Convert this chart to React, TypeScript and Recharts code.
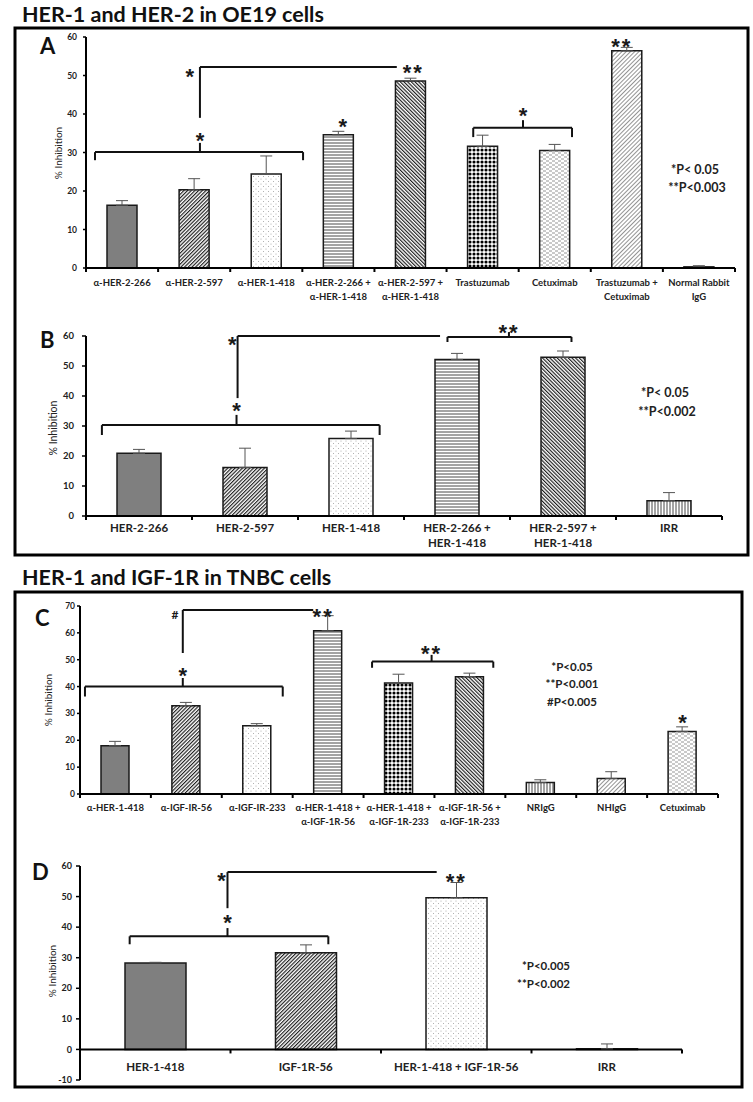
import React from 'react';
import { BarChart, Bar, XAxis, YAxis, Cell, ErrorBar, ReferenceLine, ReferenceDot } from 'recharts';

// ---------- Panel A : HER-1 and HER-2 in OE19 cells ----------
const catsA = ['α-HER-2-266', 'α-HER-2-597', 'α-HER-1-418', 'α-HER-2-266 +\nα-HER-1-418', 'α-HER-2-597 +\nα-HER-1-418', 'Trastuzumab', 'Cetuximab', 'Trastuzumab +\nCetuximab', 'Normal Rabbit\nIgG'];
const valsA = [16.3, 20.3, 24.4, 34.6, 48.6, 31.6, 30.5, 56.4, 0.3];
const errsA = [1.2, 2.9, 4.7, 0.9, 0.7, 2.9, 1.6, 0.9, 0.3];
const ticksA = [0, 10, 20, 30, 40, 50, 60];
const bracketsA = [
  { from: -0.375, to: 2.51, y: 30.1, end: 28.0, mid: 1.08, top: 32.5 },
  { from: 4.87, to: 6.24, y: 36.4, end: 34.0, mid: 5.56, top: 38.4 },
];
const linksA = [{ x: 1.08, y0: 39, y1: 52.2, x2: 3.81 }];
const starsA = [
  { x: 1.08, y: 34.5, t: '*' },
  { x: 0.94, y: 51.2, t: '*' },
  { x: 4.04, y: 52.2, t: '**' },
  { x: 3.06, y: 38.2, t: '*' },
  { x: 5.56, y: 41, t: '*' },
  { x: 6.93, y: 59, t: '**' },
];
const pTextA = ['*P< 0.05', '**P<0.003'];

// ---------- Panel B ----------
const catsB = ['HER-2-266', 'HER-2-597', 'HER-1-418', 'HER-2-266 +\nHER-1-418', 'HER-2-597 +\nHER-1-418', 'IRR'];
const valsB = [20.9, 16.2, 25.8, 52.2, 52.9, 5.1];
const errsB = [1.3, 6.4, 2.5, 2.0, 2.1, 2.7];
const ticksB = [0, 10, 20, 30, 40, 50, 60];
const bracketsB = [
  { from: -0.35, to: 2.27, y: 30.3, end: 27, mid: 0.92, top: 33.7 },
  { from: 2.91, to: 4.08, y: 59.7, end: 58, mid: 3.49, top: 61.3 },
];
const linksB = [{ x: 0.93, y0: 39.3, y1: 60, x2: 2.84 }];
const starsB = [
  { x: 0.92, y: 37, t: '*' },
  { x: 0.88, y: 59, t: '*' },
  { x: 3.49, y: 63, t: '**' },
];
const pTextB = ['*P< 0.05', '**P<0.002'];

// ---------- Panel C : HER-1 and IGF-1R in TNBC cells ----------
const catsC = ['α-HER-1-418', 'α-IGF-IR-56', 'α-IGF-IR-233', 'α-HER-1-418 +\nα-IGF-1R-56', 'α-HER-1-418 +\nα-IGF-1R-233', 'α-IGF-1R-56 +\nα-IGF-1R-233', 'NRIgG', 'NHIgG', 'Cetuximab'];
const valsC = [18.0, 32.9, 25.4, 60.8, 41.3, 43.7, 4.3, 5.8, 23.3];
const errsC = [1.6, 1.2, 0.8, 5.6, 3.3, 1.3, 1.0, 2.5, 1.7];
const ticksC = [0, 10, 20, 30, 40, 50, 60, 70];
const bracketsC = [
  { from: -0.43, to: 2.36, y: 40, end: 36.3, mid: 0.95, top: 43.2 },
  { from: 3.62, to: 5.33, y: 49.3, end: 47, mid: 4.46, top: 51.8 },
];
const linksC = [{ x: 0.95, y0: 52.5, y1: 68.5, x2: 2.79 }];
const starsC = [
  { x: 0.95, y: 46.2, t: '*' },
  { x: 2.93, y: 68.1, t: '**' },
  { x: 4.46, y: 54.4, t: '**' },
  { x: 8.0, y: 28.7, t: '*' },
  { x: 0.84, y: 66.7, t: '#' },
];
const pTextC = ['*P<0.05', '**P<0.001', '#P<0.005'];

// ---------- Panel D ----------
const catsD = ['HER-1-418', 'IGF-1R-56', 'HER-1-418 + IGF-1R-56', 'IRR'];
const valsD = [28.3, 31.6, 49.6, 0.2];
const errsD = [0.2, 2.6, 5.0, 1.6];
const ticksD = [-10, 0, 10, 20, 30, 40, 50, 60];
const bracketsD = [{ from: -0.17, to: 1.15, y: 37, end: 34.4, mid: 0.48, top: 39.7 }];
const linksD = [{ x: 0.48, y0: 46.2, y1: 58, x2: 1.87 }];
const starsD = [
  { x: 0.48, y: 43.3, t: '*' },
  { x: 0.44, y: 57, t: '*' },
  { x: 2.0, y: 56.7, t: '**' },
];
const pTextD = ['*P<0.005', '**P<0.002'];

// ---------- styles ----------
const FONT = 'Lato, "Open Sans", sans-serif';
const fillsA = ['solid', 'fwd', 'dots', 'horiz', 'back', 'check', 'dash', 'light', 'solid'];
const fillsB = ['solid', 'fwd', 'dots', 'horiz', 'back', 'vert'];
const fillsC = ['solid', 'fwd', 'dots', 'horiz', 'check', 'back', 'vert', 'light', 'dash'];
const fillsD = ['solid', 'fwd', 'dots', 'solid'];

type Bracket = { from: number; to: number; y: number; end: number; mid: number; top: number };
type Link = { x: number; y0: number; y1: number; x2: number };
type Star = { x: number; y: number; t: string };

type Cfg = {
  cats: string[]; vals: number[]; errs: number[]; fills: string[]; ticks: number[];
  brackets: Bracket[]; links: Link[]; stars: Star[];
  top: number; height: number; plotLeft: number; plotRight: number; plotTop: number; plotBottom: number;
  xh: number; yw: number; barSize: number; yFont: number; yTickSize: number; yTickMargin: number;
  catFont: number; catLineH: number; catDy: number; zeroAxis?: boolean;
};

function Patterns() {
  return (
    <svg width={0} height={0} style={{ position: 'absolute', left: 0, top: 0 }}>
      <defs>
        <pattern id="solid" width="4" height="4" patternUnits="userSpaceOnUse">
          <rect width="4" height="4" fill="#7f7f7f" />
        </pattern>
        <pattern id="fwd" width="2.6" height="2.6" patternUnits="userSpaceOnUse" patternTransform="rotate(45)">
          <rect width="2.6" height="2.6" fill="#fff" />
          <line x1="0.6" y1="0" x2="0.6" y2="2.6" stroke="#111" strokeWidth="1.1" />
        </pattern>
        <pattern id="back" width="2.6" height="2.6" patternUnits="userSpaceOnUse" patternTransform="rotate(-45)">
          <rect width="2.6" height="2.6" fill="#fff" />
          <line x1="0.6" y1="0" x2="0.6" y2="2.6" stroke="#111" strokeWidth="1.1" />
        </pattern>
        <pattern id="light" width="3" height="3" patternUnits="userSpaceOnUse" patternTransform="rotate(45)">
          <rect width="3" height="3" fill="#fff" />
          <line x1="0.5" y1="0" x2="0.5" y2="3" stroke="#888" strokeWidth="0.9" />
        </pattern>
        <pattern id="horiz" width="4" height="3" patternUnits="userSpaceOnUse">
          <rect width="4" height="3" fill="#fff" />
          <line x1="0" y1="1" x2="4" y2="1" stroke="#333" strokeWidth="0.9" />
        </pattern>
        <pattern id="vert" width="3" height="4" patternUnits="userSpaceOnUse">
          <rect width="3" height="4" fill="#fff" />
          <line x1="1" y1="0" x2="1" y2="4" stroke="#333" strokeWidth="0.9" />
        </pattern>
        <pattern id="dots" width="5" height="5" patternUnits="userSpaceOnUse">
          <rect width="5" height="5" fill="#fff" />
          <circle cx="1" cy="1" r="0.5" fill="#999" />
          <circle cx="3.5" cy="3.5" r="0.5" fill="#999" />
        </pattern>
        <pattern id="check" width="4" height="4" patternUnits="userSpaceOnUse">
          <rect width="4" height="4" fill="#fff" />
          <circle cx="2" cy="2" r="1.55" fill="#000" />
        </pattern>
        <pattern id="dash" width="6" height="4" patternUnits="userSpaceOnUse">
          <rect width="6" height="4" fill="#fff" />
          <line x1="0" y1="1" x2="3" y2="1" stroke="#777" strokeWidth="0.8" />
          <line x1="3" y1="3" x2="6" y2="3" stroke="#777" strokeWidth="0.8" />
        </pattern>
      </defs>
    </svg>
  );
}

function Panel({ cfg }: { cfg: Cfg }) {
  const { cats, vals, errs, fills, ticks, brackets, links, stars, top, height, plotLeft, plotRight, plotTop, plotBottom, xh, yw } = cfg;
  const width = 753;
  const n = cats.length;
  const data = cats.map((name, i) => ({ name, idx: i, value: vals[i], err: [0, errs[i]] }));
  const margin = { top: plotTop - top, left: plotLeft - yw, right: width - plotRight, bottom: top + height - plotBottom - xh };
  const band = (plotRight - plotLeft) / n;
  const yMin = ticks[0];
  const yMax = ticks[ticks.length - 1];
  const lift = cfg.zeroAxis ? ((0 - yMin) / (yMax - yMin)) * (plotBottom - plotTop) : 0;

  const renderTick = (p: any) => {
    const { x, y, payload, index } = p;
    const half = band / 2;
    const ay = y - lift;
    const lines = String(payload.value).split('\n');
    return (
      <g>
        <line x1={x - half} x2={x - half} y1={ay} y2={ay + 4} stroke="#000" strokeWidth={2} />
        {index === n - 1 && <line x1={x + half} x2={x + half} y1={ay} y2={ay + 4} stroke="#000" strokeWidth={2} />}
        <text x={x} y={ay + cfg.catDy} textAnchor="middle" fontSize={cfg.catFont} fontWeight={700} fill="#222" fontFamily={FONT}>
          {lines.map((l, i) => (
            <tspan key={i} x={x} dy={i === 0 ? 0 : cfg.catLineH}>{l}</tspan>
          ))}
        </text>
      </g>
    );
  };

  const seg = (key: string, x1: number, y1: number, x2: number, y2: number) => (
    <ReferenceLine key={key} xAxisId="n" segment={[{ x: x1, y: y1 }, { x: x2, y: y2 }]} stroke="#111" strokeWidth={2} ifOverflow="visible" />
  );

  const annot: React.ReactNode[] = [];
  brackets.forEach((b, i) => {
    annot.push(seg(`bh${i}`, b.from, b.y, b.to, b.y));
    annot.push(seg(`bl${i}`, b.from, b.y, b.from, b.end));
    annot.push(seg(`br${i}`, b.to, b.y, b.to, b.end));
    annot.push(seg(`bm${i}`, b.mid, b.y, b.mid, b.top));
  });
  links.forEach((l, i) => {
    annot.push(seg(`lv${i}`, l.x, l.y0, l.x, l.y1));
    annot.push(seg(`lh${i}`, l.x, l.y1, l.x2, l.y1));
  });
  stars.forEach((s, i) => {
    const isHash = s.t === '#';
    const fs = isHash ? 12 : 22;
    annot.push(
      <ReferenceDot
        key={`s${i}`}
        xAxisId="n"
        x={s.x}
        y={s.y}
        r={0}
        ifOverflow="visible"
        shape={(p: any) => (
          <text
            x={p.cx}
            y={p.cy + (isHash ? 4 : fs * 0.6)}
            textAnchor="middle"
            fontSize={fs}
            fontWeight={700}
            letterSpacing={s.t === '**' ? 2 : 0}
            fill="#1a1a1a"
            fontFamily={isHash ? FONT : '"Liberation Sans", Arial, sans-serif'}
          >
            {s.t}
          </text>
        )}
      />
    );
  });

  return (
    <div style={{ position: 'absolute', left: 0, top }}>
      <BarChart width={width} height={height} data={data} margin={margin} barSize={cfg.barSize}>
        <XAxis
          dataKey="name"
          interval={0}
          height={xh}
          tickSize={0}
          tickMargin={0}
          tickLine={false}
          axisLine={cfg.zeroAxis ? false : { stroke: '#000', strokeWidth: 2 }}
          tick={renderTick}
        />
        <XAxis xAxisId="n" type="number" dataKey="idx" domain={[-0.5, n - 0.5]} hide allowDataOverflow />
        <YAxis
          width={yw}
          domain={[yMin, yMax]}
          ticks={ticks}
          interval={0}
          allowDataOverflow
          tickSize={cfg.yTickSize}
          tickMargin={cfg.yTickMargin}
          tickLine={{ stroke: '#000', strokeWidth: 1.5 }}
          axisLine={{ stroke: '#000', strokeWidth: 2 }}
          tick={{ fontSize: cfg.yFont, fontWeight: 700, fill: '#222', fontFamily: FONT }}
        />
        {cfg.zeroAxis && <ReferenceLine y={0} stroke="#000" strokeWidth={2} />}
        <Bar dataKey="value" stroke="#1a1a1a" strokeWidth={1.5} isAnimationActive={false}>
          {data.map((d, i) => (
            <Cell key={i} fill={`url(#${fills[i]})`} />
          ))}
          <ErrorBar dataKey="err" direction="y" width={6} stroke="#555" strokeWidth={1} />
        </Bar>
        {annot}
      </BarChart>
    </div>
  );
}

const cfgA: Cfg = {
  cats: catsA, vals: valsA, errs: errsA, fills: fillsA, ticks: ticksA, brackets: bracketsA, links: linksA, stars: starsA,
  top: 28, height: 290, plotLeft: 86, plotRight: 735, plotTop: 37, plotBottom: 268, xh: 40, yw: 30, barSize: 30,
  yFont: 8.5, yTickSize: 3, yTickMargin: 6, catFont: 9.5, catLineH: 14, catDy: 18,
};
const cfgB: Cfg = {
  cats: catsB, vals: valsB, errs: errsB, fills: fillsB, ticks: ticksB, brackets: bracketsB, links: linksB, stars: starsB,
  top: 320, height: 240, plotLeft: 86, plotRight: 722, plotTop: 336, plotBottom: 516, xh: 40, yw: 30, barSize: 44,
  yFont: 9.5, yTickSize: 4, yTickMargin: 8, catFont: 11.5, catLineH: 15, catDy: 16,
};
const cfgC: Cfg = {
  cats: catsC, vals: valsC, errs: errsC, fills: fillsC, ticks: ticksC, brackets: bracketsC, links: linksC, stars: starsC,
  top: 595, height: 245, plotLeft: 80, plotRight: 718, plotTop: 606, plotBottom: 794, xh: 40, yw: 30, barSize: 28,
  yFont: 8.5, yTickSize: 3, yTickMargin: 2, catFont: 9.5, catLineH: 14, catDy: 17,
};
const cfgD: Cfg = {
  cats: catsD, vals: valsD, errs: errsD, fills: fillsD, ticks: ticksD, brackets: bracketsD, links: linksD, stars: starsD,
  top: 855, height: 230, plotLeft: 80, plotRight: 682, plotTop: 866, plotBottom: 1080, xh: 4, yw: 30, barSize: 61,
  yFont: 9, yTickSize: 4, yTickMargin: 4, catFont: 11.5, catLineH: 14, catDy: 22, zeroAxis: true,
};

function Overlay() {
  const t = (x: number, y: number, s: string, fs: number, opts: any = {}) => (
    <text x={x} y={y} fontSize={fs} fontFamily={FONT} fill="#222" {...opts}>{s}</text>
  );
  const yl = (x: number, y: number, fs: number) => (
    <text x={x} y={y} fontSize={fs} fontFamily={FONT} fill="#222" textAnchor="middle" dominantBaseline="central" transform={`rotate(-90 ${x} ${y})`}>% Inhibition</text>
  );
  return (
    <svg width={753} height={1102} style={{ position: 'absolute', left: 0, top: 0, pointerEvents: 'none' }}>
      <rect x={15} y={28} width={733} height={527} fill="none" stroke="#000" strokeWidth={3} />
      <rect x={15} y={592} width={727} height={495} fill="none" stroke="#000" strokeWidth={3} />
      {t(22, 22, 'HER-1 and HER-2 in OE19 cells', 21.5, { fontWeight: 700, fill: '#111' })}
      {t(22, 585, 'HER-1 and IGF-1R in TNBC cells', 21.5, { fontWeight: 700, fill: '#111' })}
      {t(40, 54, 'A', 22, { fontWeight: 700, fill: '#111' })}
      {t(40, 348, 'B', 22, { fontWeight: 700, fill: '#111' })}
      {t(35, 626, 'C', 22, { fontWeight: 700, fill: '#111' })}
      {t(32, 880, 'D', 22, { fontWeight: 700, fill: '#111' })}
      {yl(58, 153, 10)}
      {yl(53, 428, 10.5)}
      {yl(48, 700, 10)}
      {yl(52, 971, 10)}
      {t(695, 174, pTextA[0], 12.5, { fontWeight: 700, textAnchor: 'middle' })}
      {t(697, 192, pTextA[1], 12.5, { fontWeight: 700, textAnchor: 'middle' })}
      {t(665, 397, pTextB[0], 12.5, { fontWeight: 700, textAnchor: 'middle' })}
      {t(667, 416, pTextB[1], 12.5, { fontWeight: 700, textAnchor: 'middle' })}
      {t(572, 671, pTextC[0], 11.5, { fontWeight: 700, textAnchor: 'middle' })}
      {t(572, 688, pTextC[1], 11.5, { fontWeight: 700, textAnchor: 'middle' })}
      {t(572, 706, pTextC[2], 11.5, { fontWeight: 700, textAnchor: 'middle' })}
      {t(570, 970, pTextD[0], 11.5, { fontWeight: 700, textAnchor: 'end' })}
      {t(570, 988, pTextD[1], 11.5, { fontWeight: 700, textAnchor: 'end' })}
    </svg>
  );
}

export default function App() {
  return (
    <div style={{ position: 'absolute', left: 0, top: 0, width: 753, height: 1102, background: '#fff', overflow: 'hidden' }}>
      <Patterns />
      <Panel cfg={cfgA} />
      <Panel cfg={cfgB} />
      <Panel cfg={cfgC} />
      <Panel cfg={cfgD} />
      <Overlay />
    </div>
  );
}
